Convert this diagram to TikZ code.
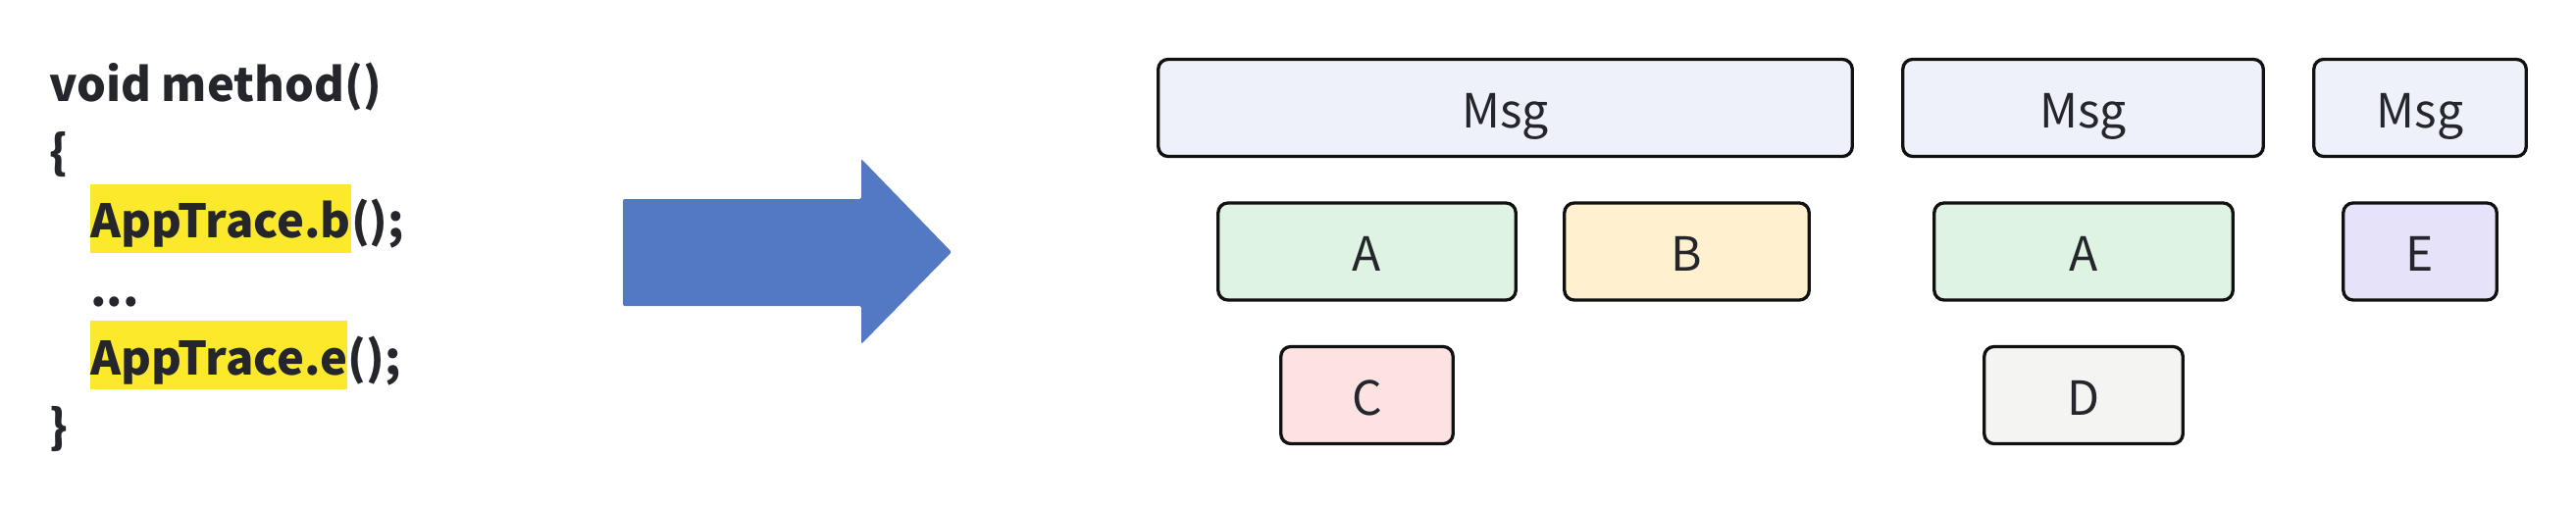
\documentclass[tikz,border=0pt]{standalone}
\usepackage{fontspec}
\newfontfamily\boxfont{Noto Sans CJK SC}
\newfontfamily\codefont{Noto Sans CJK SC}
\definecolor{msgfill}{HTML}{EEF1FA}
\definecolor{afill}{HTML}{DEF3E1}
\definecolor{bfill}{HTML}{FFF1CF}
\definecolor{cfill}{HTML}{FDE2E2}
\definecolor{dfill}{HTML}{F4F5F2}
\definecolor{efill}{HTML}{E6E2FA}
\definecolor{hlyellow}{HTML}{FDE92B}
\definecolor{arrowblue}{HTML}{5479C4}
\definecolor{textdark}{HTML}{24262B}
\definecolor{strokedark}{HTML}{111111}
\begin{document}
\begin{tikzpicture}[x=1pt,y=-1pt,
  box/.style={draw=strokedark, line width=3.3pt, rounded corners=10pt, inner sep=0pt,
    minimum height=99pt, text height=50pt, text depth=10pt, text=textdark,
    font=\boxfont\fontsize{48}{56}\selectfont},
  codeline/.style={anchor=base west, inner sep=0pt, text=textdark,
    font=\codefont\bfseries\fontsize{47}{56}\selectfont},
  hl/.style={codeline, fill=hlyellow, text height=55pt, text depth=15pt}]
\useasboundingbox (0,0) rectangle (2626,514);
\fill[white] (0,0) rectangle (2626,514);
% code
\node[codeline] (l1) at (50,103) {void method()};
\node[codeline] (l2) at (50,172.8) {\{};
\node[hl] (l3) at (92,242.6) {AppTrace.b\hspace{5pt}};
\node[codeline] (l3b) at (l3.base east) {();};
\node[codeline] (l4) at (92,312.4) {...};
\node[hl] (l5) at (92,382.2) {AppTrace.e\hspace{5pt}};
\node[codeline] (l5b) at (l5.base east) {();};
\node[codeline] (l6) at (50,452) {\}};
% big arrow
\fill[arrowblue, rounded corners=2pt] (635,203) -- (878,203) -- (878,162) -- (970,257)
  -- (878,351) -- (878,312) -- (635,312) -- cycle;
% boxes
\node[box, fill=msgfill, minimum width=707.5pt] (m1) at (1534.5,110) {Msg};
\node[box, fill=msgfill, minimum width=367.5pt] (m2) at (2123.5,110) {Msg};
\node[box, fill=msgfill, minimum width=216.5pt] (m3) at (2467,110) {Msg};
\node[box, fill=afill, minimum width=303.5pt] (a1) at (1393.5,256.5) {A};
\node[box, fill=bfill, minimum width=249.5pt] (b) at (1719.5,256.5) {B};
\node[box, fill=afill, minimum width=304.5pt] (a2) at (2124,256.5) {A};
\node[box, fill=efill, minimum width=156.5pt] (e) at (2467,256.5) {E};
\node[box, fill=cfill, minimum width=175.5pt] (c) at (1393.5,403) {C};
\node[box, fill=dfill, minimum width=202.5pt] (d) at (2124,403) {D};
\end{tikzpicture}
\end{document}
